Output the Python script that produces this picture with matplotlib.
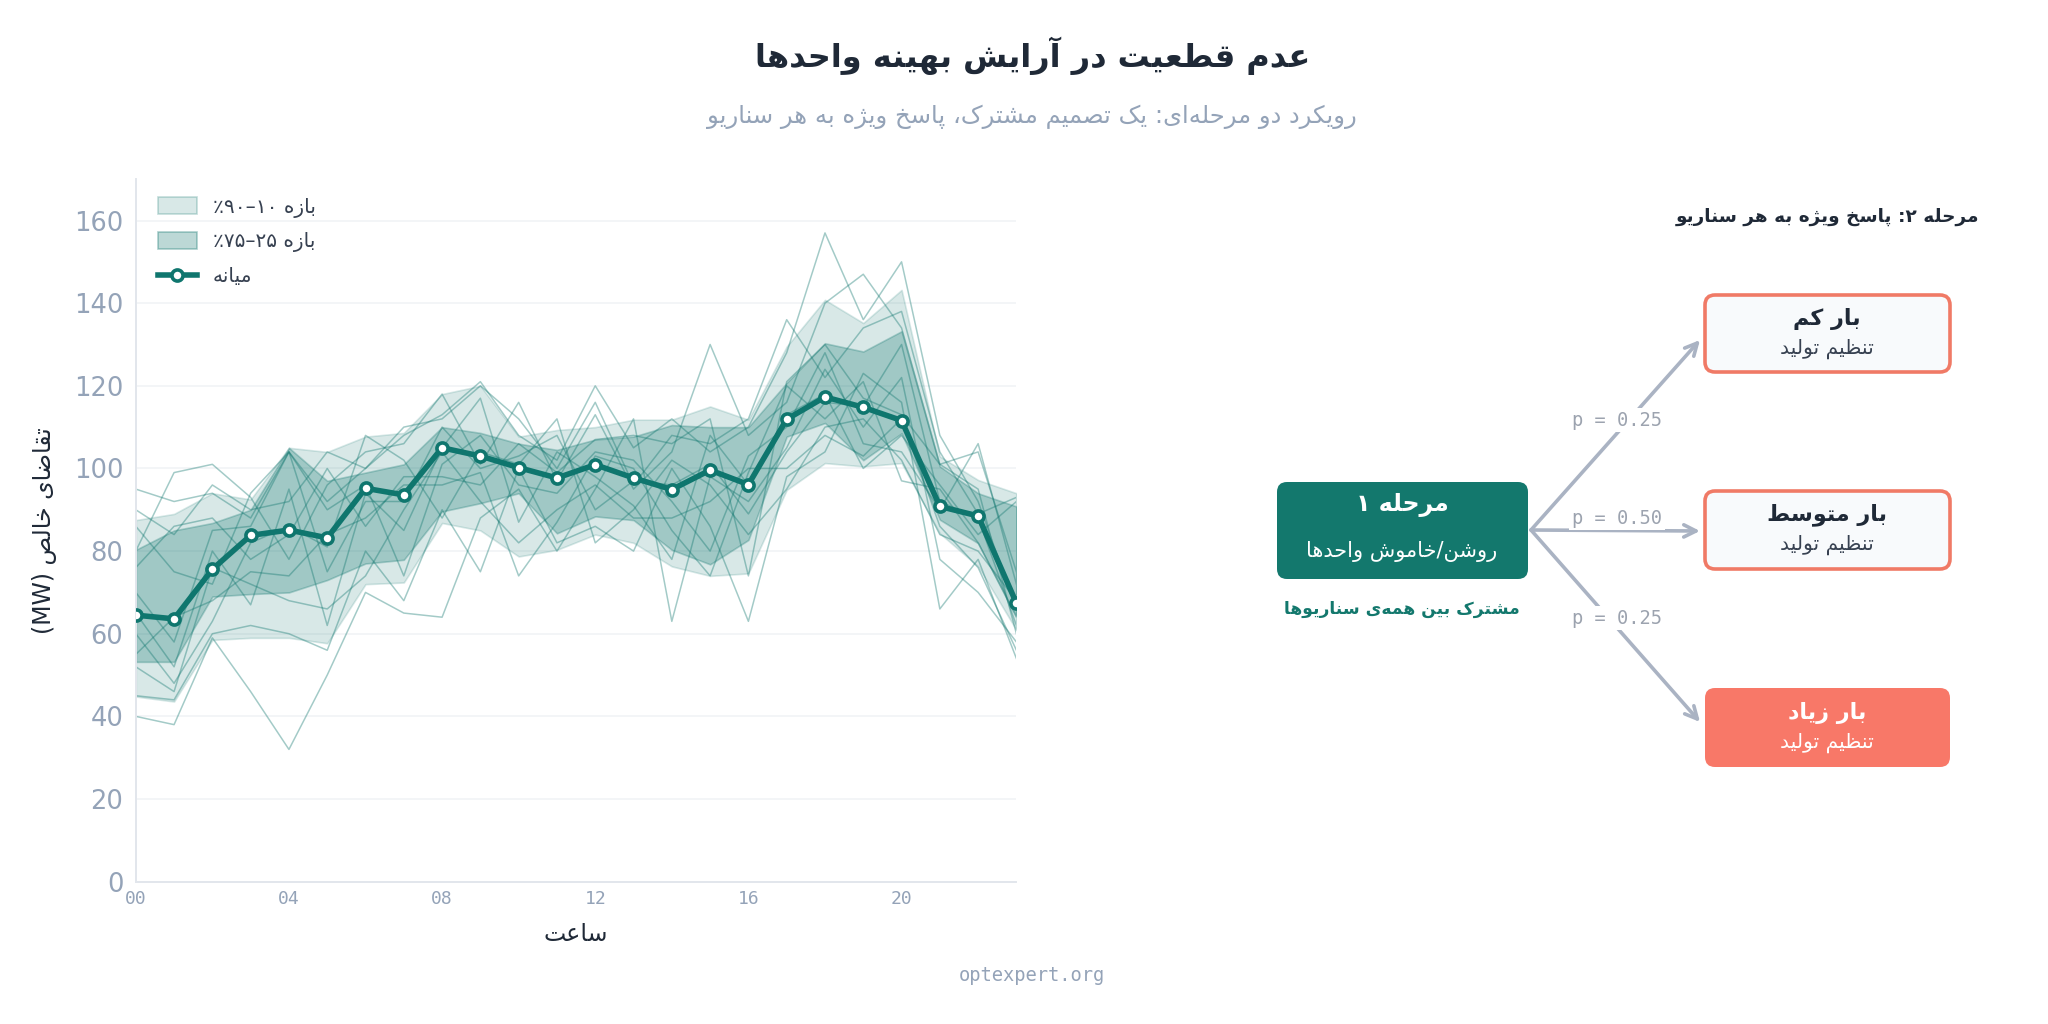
import matplotlib
matplotlib.use('Agg')
import matplotlib.pyplot as plt
from matplotlib.patches import FancyBboxPatch, Patch
from matplotlib.lines import Line2D

# ---------------- data ----------------
hours = list(range(24))
hour_ticks = [0, 4, 8, 12, 16, 20]
hour_tick_labels = ['00', '04', '08', '12', '16', '20']
y_ticks = [0, 20, 40, 60, 80, 100, 120, 140, 160]

median = [64.5, 63.6, 75.6, 83.8, 85.1, 83.2, 95.2, 93.6, 105.0, 103.0, 100.2, 97.7,
          100.9, 97.7, 94.9, 99.6, 96.1, 111.9, 117.3, 114.8, 111.6, 90.8, 88.5, 67.4]
p90 = [87.5, 89.0, 94.0, 92.5, 105.0, 104.0, 107.7, 108.6, 118.0, 120.0, 107.7, 109.3,
       110.0, 111.8, 111.8, 115.0, 111.8, 129.5, 140.8, 135.2, 143.2, 102.9, 97.2, 94.0]
p10 = [44.8, 43.6, 58.5, 59.0, 59.0, 57.7, 72.0, 72.4, 86.8, 85.0, 78.7, 80.3,
       84.0, 82.0, 76.3, 74.0, 74.6, 94.8, 101.3, 100.5, 101.3, 84.3, 76.3, 60.9]
p75 = [80.3, 85.0, 86.8, 90.0, 105.0, 97.0, 99.0, 101.0, 110.0, 108.6, 106.0, 104.5,
       107.0, 107.7, 110.5, 110.0, 110.0, 120.7, 130.3, 128.3, 133.2, 100.5, 94.0, 90.8]
p25 = [53.2, 53.2, 69.0, 69.6, 70.0, 73.0, 77.0, 77.9, 89.6, 91.6, 94.0, 84.3,
       88.4, 87.5, 80.3, 76.8, 82.7, 107.7, 111.0, 102.0, 108.5, 87.6, 81.9, 64.2]

scen_a = [95, 92, 94, 88, 104, 92, 100, 108, 113, 121, 108, 102, 120, 105, 112, 104, 110, 128, 157, 136, 150, 108, 92, 66]
scen_b = [80, 99, 101, 93, 78, 96, 104, 106, 118, 101, 116, 97, 113, 95, 104, 130, 108, 116, 140, 147, 134, 101, 95, 60]
scen_c = [40, 38, 59, 46, 32, 50, 70, 65, 64, 88, 95, 80, 95, 112, 63, 98, 92, 105, 124, 110, 122, 78, 70, 58]
scen_d = [45, 44, 60, 62, 60, 56, 80, 68, 90, 75, 100, 82, 86, 80, 100, 86, 63, 98, 104, 123, 116, 66, 78, 54]
scen_e = [65, 52, 80, 67, 95, 62, 94, 85, 105, 117, 87, 104, 98, 91, 78, 108, 96, 113, 118, 100, 108, 96, 84, 92]
scen_f = [86, 75, 72, 94, 104, 90, 96, 74, 101, 108, 96, 94, 104, 102, 92, 80, 103, 110, 128, 106, 104, 90, 106, 72]
scen_g = [55, 64, 68, 75, 74, 84, 88, 96, 96, 99, 74, 87, 103, 100, 85, 74, 99, 120, 112, 121, 97, 95, 82, 64]
scen_h = [70, 58, 85, 86, 104, 75, 92, 92, 110, 100, 103, 108, 90, 97, 96, 101, 89, 104, 116, 115, 130, 92, 88, 62]
scen_i = [60, 48, 63, 82, 86, 81, 108, 102, 88, 104, 101, 112, 82, 90, 102, 96, 84, 95, 110, 112, 102, 84, 80, 68]
scen_j = [76, 86, 88, 78, 84, 100, 86, 98, 98, 96, 106, 99, 107, 108, 106, 112, 74, 121, 130, 117, 113, 101, 104, 75]
scen_k = [52, 46, 76, 72, 68, 66, 74, 90, 104, 92, 82, 90, 96, 88, 88, 92, 100, 100, 108, 103, 112, 86, 76, 56]
scen_l = [90, 84, 96, 90, 92, 104, 100, 110, 112, 120, 112, 100, 116, 96, 108, 106, 112, 136, 122, 134, 138, 104, 89, 93]
scenarios = [scen_a, scen_b, scen_c, scen_d, scen_e, scen_f,
             scen_g, scen_h, scen_i, scen_j, scen_k, scen_l]

branch_probs = ['p = 0.25', 'p = 0.50', 'p = 0.25']

# ---------------- Persian shaping (presentation forms + simple bidi) ----------------
_F = {
    '\u0622': (0xFE81, 0xFE82, None, None),
    '\u0627': (0xFE8D, 0xFE8E, None, None),
    '\u0628': (0xFE8F, 0xFE90, 0xFE91, 0xFE92),
    '\u067E': (0xFB56, 0xFB57, 0xFB58, 0xFB59),
    '\u062A': (0xFE95, 0xFE96, 0xFE97, 0xFE98),
    '\u062B': (0xFE99, 0xFE9A, 0xFE9B, 0xFE9C),
    '\u062C': (0xFE9D, 0xFE9E, 0xFE9F, 0xFEA0),
    '\u0686': (0xFB7A, 0xFB7B, 0xFB7C, 0xFB7D),
    '\u062D': (0xFEA1, 0xFEA2, 0xFEA3, 0xFEA4),
    '\u062E': (0xFEA5, 0xFEA6, 0xFEA7, 0xFEA8),
    '\u062F': (0xFEA9, 0xFEAA, None, None),
    '\u0630': (0xFEAB, 0xFEAC, None, None),
    '\u0631': (0xFEAD, 0xFEAE, None, None),
    '\u0632': (0xFEAF, 0xFEB0, None, None),
    '\u0698': (0xFB8A, 0xFB8B, None, None),
    '\u0633': (0xFEB1, 0xFEB2, 0xFEB3, 0xFEB4),
    '\u0634': (0xFEB5, 0xFEB6, 0xFEB7, 0xFEB8),
    '\u0635': (0xFEB9, 0xFEBA, 0xFEBB, 0xFEBC),
    '\u0636': (0xFEBD, 0xFEBE, 0xFEBF, 0xFEC0),
    '\u0637': (0xFEC1, 0xFEC2, 0xFEC3, 0xFEC4),
    '\u0638': (0xFEC5, 0xFEC6, 0xFEC7, 0xFEC8),
    '\u0639': (0xFEC9, 0xFECA, 0xFECB, 0xFECC),
    '\u063A': (0xFECD, 0xFECE, 0xFECF, 0xFED0),
    '\u0641': (0xFED1, 0xFED2, 0xFED3, 0xFED4),
    '\u0642': (0xFED5, 0xFED6, 0xFED7, 0xFED8),
    '\u06A9': (0xFB8E, 0xFB8F, 0xFB90, 0xFB91),
    '\u0643': (0xFED9, 0xFEDA, 0xFEDB, 0xFEDC),
    '\u06AF': (0xFB92, 0xFB93, 0xFB94, 0xFB95),
    '\u0644': (0xFEDD, 0xFEDE, 0xFEDF, 0xFEE0),
    '\u0645': (0xFEE1, 0xFEE2, 0xFEE3, 0xFEE4),
    '\u0646': (0xFEE5, 0xFEE6, 0xFEE7, 0xFEE8),
    '\u0647': (0xFEE9, 0xFEEA, 0xFEEB, 0xFEEC),
    '\u0648': (0xFEED, 0xFEEE, None, None),
    '\u06CC': (0xFBFC, 0xFBFD, 0xFBFE, 0xFBFF),
    '\u064A': (0xFEF1, 0xFEF2, 0xFEF3, 0xFEF4),
}


def _dual(c):
    f = _F.get(c)
    return f is not None and f[2] is not None


def _ltr(ch):
    return (ch.isascii() and ch.isalnum()) or ('\u06F0' <= ch <= '\u06F9')


def fa(s):
    out = []
    n = len(s)
    for i, c in enumerate(s):
        if c not in _F:
            if c != '\u200c':
                out.append(c)
            continue
        prev = s[i - 1] if i > 0 else ''
        nxt = s[i + 1] if i + 1 < n else ''
        pj = _dual(prev)
        nj = _dual(c) and (nxt in _F)
        f = _F[c]
        if pj and nj:
            cp = f[3]
        elif pj:
            cp = f[1]
        elif nj:
            cp = f[2]
        else:
            cp = f[0]
        out.append(chr(cp))
    rev = ''.join(out)[::-1]
    mirror = {'(': ')', ')': '('}
    res, run = [], []
    for ch in rev:
        if _ltr(ch):
            run.append(ch)
        else:
            if run:
                res.extend(run[::-1])
                run = []
            res.append(mirror.get(ch, ch))
    if run:
        res.extend(run[::-1])
    return ''.join(res)


FA = ['DejaVu Sans']
MONO = 'DejaVu Sans Mono'

# ---------------- colors ----------------
TEAL = '#0f766e'
DARK = '#1f2937'
TXT = '#374151'
MUTED = '#94a3b8'
SALMON = '#f07a66'
ARROW = '#aab3c3'

fig = plt.figure(figsize=(20.48, 10.24), dpi=100)
fig.patch.set_facecolor('white')

# ---------------- left chart ----------------
ax = fig.add_axes([0.0663, 0.139, 0.4300, 0.686])
for sc in scenarios:
    ax.plot(hours, sc, color=TEAL, lw=1.1, alpha=0.38, zorder=2)
ax.fill_between(hours, p10, p90, color=TEAL, alpha=0.16, lw=1.2,
                edgecolor=(0.06, 0.46, 0.43, 0.25), zorder=1)
ax.fill_between(hours, p25, p75, color=TEAL, alpha=0.28, lw=1.2,
                edgecolor=(0.06, 0.46, 0.43, 0.35), zorder=1.5)
ax.plot(hours, median, color=TEAL, lw=4.0, marker='o', ms=8, mfc='white',
        mec=TEAL, mew=2.6, zorder=5, solid_capstyle='round')

ax.set_xlim(0, 23)
ax.set_ylim(0, 170)
ax.set_yticks(y_ticks)
ax.set_xticks(hour_ticks)
ax.set_xticklabels(hour_tick_labels, family=MONO, fontsize=13, color=MUTED)
for lab in ax.get_yticklabels():
    lab.set_fontsize(18.5)
    lab.set_color(MUTED)
ax.tick_params(axis='both', length=0)
ax.tick_params(axis='y', pad=9)
ax.tick_params(axis='x', pad=6)
ax.grid(axis='y', color='#f1f3f6', lw=1.2, zorder=0)
ax.set_axisbelow(True)
for side in ['top', 'right']:
    ax.spines[side].set_visible(False)
for side in ['left', 'bottom']:
    ax.spines[side].set_color('#e2e6ec')
    ax.spines[side].set_linewidth(1.4)

ax.set_xlabel(fa('ساعت'), family=FA, fontsize=17, color=DARK, labelpad=10)
ax.set_ylabel(fa('تقاضای خالص (MW)'), family=FA, fontsize=17, color=DARK, labelpad=12)

handles = [
    Patch(facecolor=(0.06, 0.46, 0.43, 0.16), edgecolor=(0.06, 0.46, 0.43, 0.25), lw=1.2),
    Patch(facecolor=(0.06, 0.46, 0.43, 0.28), edgecolor=(0.06, 0.46, 0.43, 0.35), lw=1.2),
    Line2D([0], [0], color=TEAL, lw=4.0, marker='o', ms=8, mfc='white', mec=TEAL, mew=2.6),
]
labels = [fa('بازه ۱۰–۹۰٪'), fa('بازه ۲۵–۷۵٪'), fa('میانه')]
leg = ax.legend(handles, labels, loc='upper left', bbox_to_anchor=(0.005, 1.0),
                frameon=False, prop={'family': FA, 'size': 14.5}, handlelength=1.9,
                handleheight=0.9, labelspacing=0.72, handletextpad=0.8)
for t in leg.get_texts():
    t.set_color(TXT)

# ---------------- titles ----------------
fig.text(0.504, 0.946, fa('عدم قطعیت در آرایش بهینه واحدها'), family=FA,
         fontsize=23, fontweight='bold', color=DARK, ha='center', va='center')
fig.text(0.504, 0.886, fa('رویکرد دو مرحله‌ای: یک تصمیم مشترک، پاسخ ویژه به هر سناریو'),
         family=FA, fontsize=17.5, color=MUTED, ha='center', va='center')
fig.text(0.504, 0.047, 'optexpert.org', family=MONO, fontsize=13.5, color=MUTED,
         ha='center', va='center')

# ---------------- right diagram (pixel coordinates) ----------------
ad = fig.add_axes([0, 0, 1, 1])
ad.set_xlim(0, 2048)
ad.set_ylim(1024, 0)
ad.axis('off')
ad.patch.set_alpha(0)

ad.text(1979, 217, fa('مرحله ۲: پاسخ ویژه به هر سناریو'), family=FA, fontsize=13.3,
        fontweight='bold', color=DARK, ha='right', va='center')

# stage 1 box
ad.add_patch(FancyBboxPatch((1277, 482), 251, 97, boxstyle='round,pad=0,rounding_size=10',
                            fc='#13786d', ec='none', zorder=3))
ad.text(1402, 505, fa('مرحله ۱'), family=FA, fontsize=17, fontweight='bold',
        color='white', ha='center', va='center', zorder=4)
ad.text(1402, 551, fa('روشن/خاموش واحدها'), family=FA, fontsize=15,
        color='white', ha='center', va='center', zorder=4)
ad.text(1402, 609, fa('مشترک بین همه‌ی سناریوها'), family=FA, fontsize=12.3,
        fontweight='bold', color='#13786d', ha='center', va='center', zorder=4)

# stage 2 boxes
box_titles = ['بار کم', 'بار متوسط', 'بار زیاد']
box_sub = 'تنظیم تولید'
box_y = [(295, 372), (491, 569), (688, 767)]
box_fill = ['#f8fafc', '#f8fafc', '#f87868']
box_text = [DARK, DARK, 'white']
box_sub_color = [TXT, TXT, 'white']
arrow_end_y = [340, 531, 722]
label_pos = [(1617, 420), (1617, 518), (1617, 618)]

for k in range(3):
    y0, y1 = box_y[k]
    ad.add_patch(FancyBboxPatch((1705, y0), 245, y1 - y0,
                                boxstyle='round,pad=0,rounding_size=10',
                                fc=box_fill[k], ec=SALMON if k < 2 else 'none',
                                lw=2.6, zorder=3))
    cy = (y0 + y1) / 2
    ad.text(1827, cy - 15, fa(box_titles[k]), family=FA, fontsize=16, fontweight='bold',
            color=box_text[k], ha='center', va='center', zorder=4)
    ad.text(1827, cy + 15, fa(box_sub), family=FA, fontsize=14.5,
            color=box_sub_color[k], ha='center', va='center', zorder=4)
    ad.annotate('', xy=(1700, arrow_end_y[k]), xytext=(1531, 530),
                arrowprops=dict(arrowstyle='->', color=ARROW, lw=2.6,
                                mutation_scale=22, shrinkA=0, shrinkB=0), zorder=2)
    ad.text(label_pos[k][0], label_pos[k][1], branch_probs[k], family=MONO,
            fontsize=13.5, color='#9ca3af', ha='center', va='center', zorder=3,
            bbox=dict(fc='white', ec='none', pad=2))

fig.savefig('out.png', dpi=100, facecolor='white')
